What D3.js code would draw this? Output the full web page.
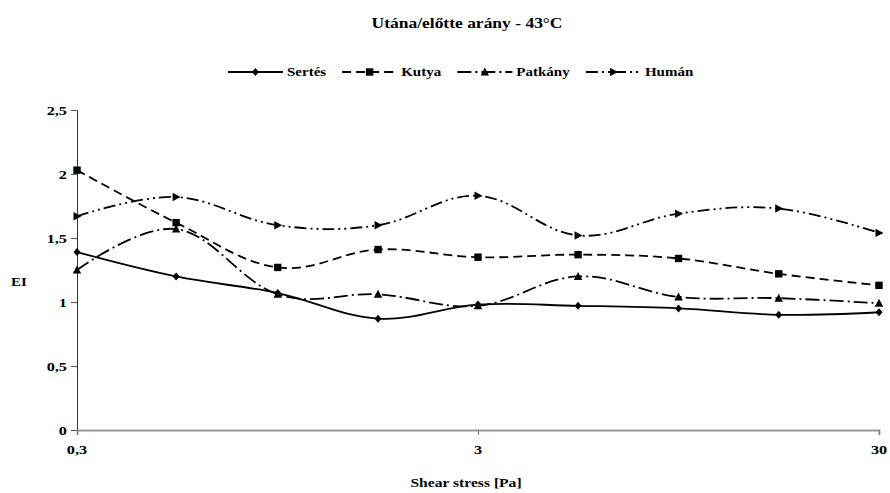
<!DOCTYPE html>
<html><head><meta charset="utf-8">
<script src="https://cdn.jsdelivr.net/npm/d3@7"></script>
<style>body{margin:0;background:#fff}</style>
</head><body>
<svg id="c" width="890" height="493"></svg>
<script>
// ---- data ----
const shearStress = [0.3, 0.53, 0.95, 1.69, 3, 5.33, 9.49, 16.87, 30];
const sertes  = [1.39, 1.20, 1.07, 0.87, 0.98, 0.97, 0.95, 0.90, 0.92];
const kutya   = [2.03, 1.62, 1.27, 1.41, 1.35, 1.37, 1.34, 1.22, 1.13];
const patkany = [1.25, 1.57, 1.06, 1.06, 0.97, 1.20, 1.04, 1.03, 0.99];
const human   = [1.67, 1.82, 1.60, 1.60, 1.83, 1.52, 1.69, 1.73, 1.54];
const seriesNames = ["Sertés", "Kutya", "Patkány", "Humán"];
const xTickValues = [0.3, 3, 30];
const yTickValues = [0, 0.5, 1, 1.5, 2, 2.5];
const titleText = "Utána/előtte arány - 43°C";
const xLabel = "Shear stress [Pa]";
const yLabel = "EI";

const seriesData = [sertes, kutya, patkany, human];
const styles = [
  {dash: null, marker: "diamond"},
  {dash: "9,5", marker: "square"},
  {dash: "14,4,2,4", marker: "triangle"},
  {dash: "12,4,2,4,2,4", marker: "rtriangle"}
];

const svg = d3.select("#c");
const SX = 1.25;
const FONT = "Liberation Serif, Times New Roman, serif";
const L = 77, R = 879, T = 110, B = 430;

const x = d3.scaleLog().domain([0.3, 30]).range([L, R]);
const y = d3.scaleLinear().domain([0, 2.5]).range([B, T]);
const fmt = d => String(d).replace(".", ",");

function txt(xp, yp, s, size, anchor) {
  return svg.append("text")
    .attr("transform", `translate(${xp},${yp}) scale(${SX},1)`)
    .attr("text-anchor", anchor || "start")
    .style("font-family", FONT).attr("font-weight", "bold")
    .attr("font-size", size).attr("fill", "#000").text(s);
}

// title
txt(467, 28, titleText, 14, "middle");

// axes
const gy = svg.append("g").attr("transform", `translate(${L},0)`)
  .call(d3.axisLeft(y).tickValues(yTickValues).tickSize(6).tickFormat(""));
gy.select(".domain").attr("stroke", "#333").attr("stroke-width", 1);
gy.selectAll(".tick line").attr("stroke", "#555");
yTickValues.forEach(v => txt(67, y(v) + 4.5, fmt(v), 13, "end"));

const gx = svg.append("g").attr("transform", `translate(0,${B})`)
  .call(d3.axisBottom(x).tickValues(xTickValues).tickSize(5).tickFormat(""));
gx.select(".domain").attr("stroke", "#999").attr("stroke-width", 1.8);
gx.selectAll(".tick line").attr("stroke", "#777");
xTickValues.forEach(v => txt(x(v), 454, fmt(v), 13, "middle"));

txt(466, 487, xLabel, 12.5, "middle");
txt(19, 286, yLabel, 12, "middle");

// markers
function drawMarker(g, type, cx, cy) {
  let p;
  if (type === "diamond") p = `M${cx},${cy-4}L${cx+3.5},${cy}L${cx},${cy+4}L${cx-3.5},${cy}Z`;
  else if (type === "square") p = `M${cx-3.7},${cy-3.7}h7.4v7.4h-7.4Z`;
  else if (type === "triangle") p = `M${cx},${cy-4.5}L${cx+4.2},${cy+3.5}L${cx-4.2},${cy+3.5}Z`;
  else p = `M${cx-3.5},${cy-4.2}L${cx+4.5},${cy}L${cx-3.5},${cy+4.2}Z`;
  g.append("path").attr("d", p).attr("fill", "#000");
}

const line = d3.line().x((d, i) => x(shearStress[i])).y(d => y(d))
  .curve(d3.curveCardinal.tension(-0.1));

seriesData.forEach((vals, k) => {
  const g = svg.append("g");
  g.append("path").attr("d", line(vals)).attr("fill", "none")
    .attr("stroke", "#000").attr("stroke-width", 1.8)
    .attr("stroke-dasharray", styles[k].dash);
  vals.forEach((v, i) => drawMarker(g, styles[k].marker, x(shearStress[i]), y(v)));
});

// legend
let lx = 228;
const ly = 72;
seriesNames.forEach((name, k) => {
  const g = svg.append("g");
  g.append("line").attr("x1", lx).attr("x2", lx + 55).attr("y1", ly).attr("y2", ly)
    .attr("stroke", "#000").attr("stroke-width", 1.8)
    .attr("stroke-dasharray", styles[k].dash);
  drawMarker(g, styles[k].marker, lx + 27.5, ly);
  const t = txt(lx + 59, ly + 4, name, 12, "start");
  const w = t.node().getBBox().width * SX;
  lx = lx + 59 + w + 16;
});
</script>
</body></html>
